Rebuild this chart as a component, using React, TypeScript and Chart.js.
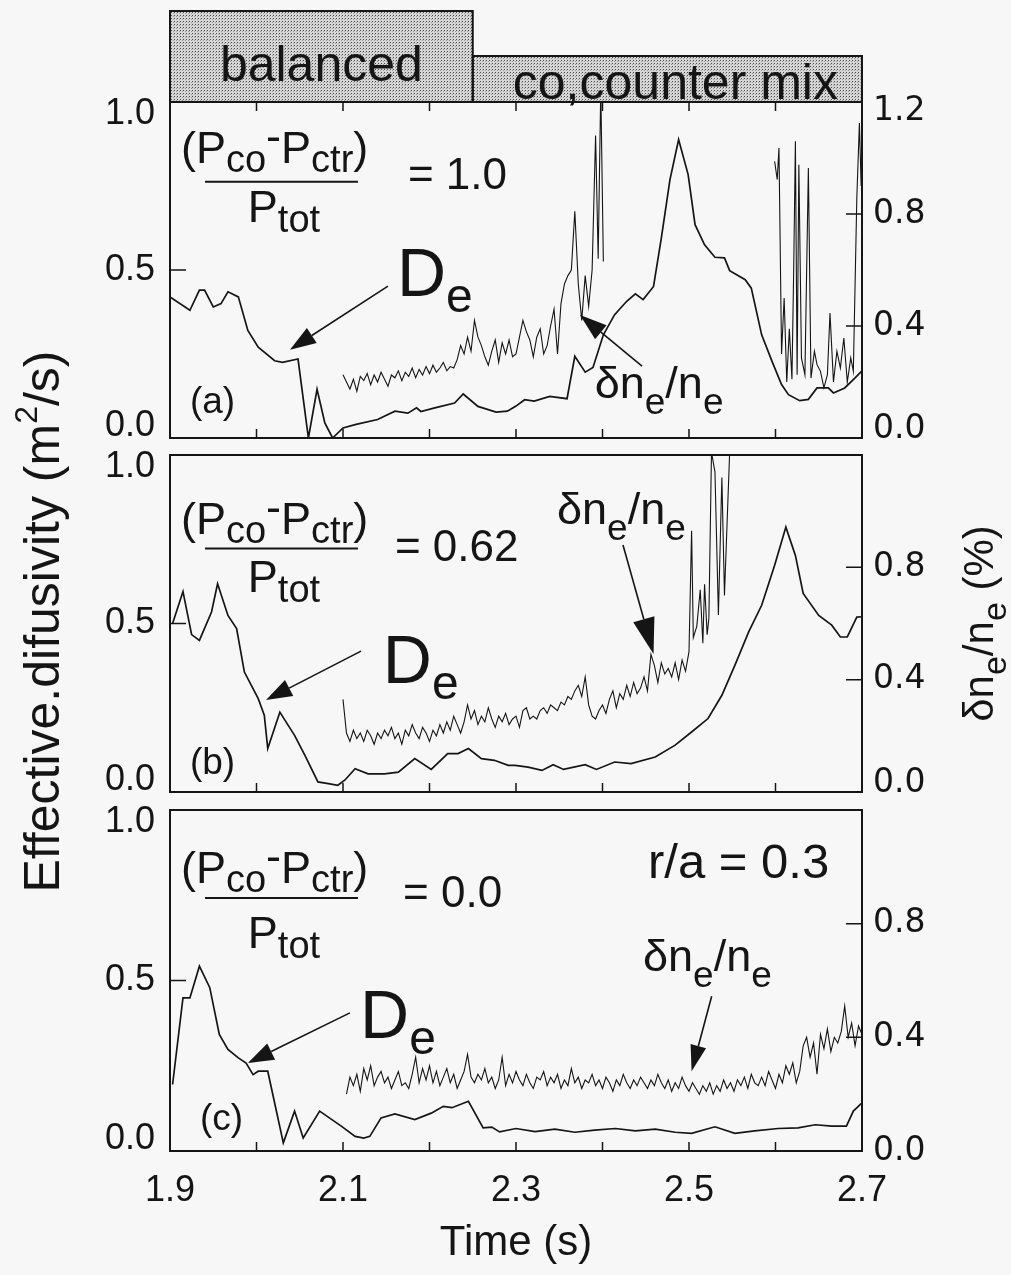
import React, { useEffect, useRef } from "react";
import { Chart, registerables } from "chart.js";

Chart.register(...registerables);

const W = 1011;
const H = 1275;
const FONT = "'Liberation Sans', Arial, Helvetica, sans-serif";
const RFONT = "'DejaVu Sans', Verdana, sans-serif";
const INK = "#151515";
const BG = "#f7f7f7";

// ---------------- axes ----------------
const timeMin = 1.9;
const timeMax = 2.7;
const timeTickLabels = ["1.9", "2.1", "2.3", "2.5", "2.7"];
const deMin = 0;
const deMax = 1.0;
const deTickLabels = ["0.0", "0.5", "1.0"];
const dnMin = 0;
const dnMax = 1.2;
const dnTickLabelsA = ["0.0", "0.4", "0.8", "1.2"];
const dnTickLabelsBC = ["0.0", "0.4", "0.8"];

// ---------------- panel (a): co-injection ----------------
const deA: [number, number][] = [
  [1.9, 0.42], [1.923, 0.38], [1.934, 0.44], [1.94, 0.44], [1.95, 0.39], [1.959, 0.4], [1.967, 0.435],
  [1.979, 0.42], [1.99, 0.32], [2.002, 0.27], [2.021, 0.23], [2.03, 0.225], [2.048, 0.235], [2.06, 0.0],
  [2.07, 0.145], [2.079, 0.045], [2.088, 0.0], [2.1, 0.03], [2.114, 0.04], [2.14, 0.055], [2.16, 0.08],
  [2.175, 0.074], [2.185, 0.09], [2.19, 0.079], [2.205, 0.089], [2.229, 0.104], [2.239, 0.131], [2.256, 0.094],
  [2.277, 0.077], [2.29, 0.08], [2.3, 0.095], [2.31, 0.114], [2.321, 0.11], [2.339, 0.124], [2.359, 0.117],
  [2.368, 0.243], [2.38, 0.196], [2.389, 0.21], [2.401, 0.307], [2.414, 0.367], [2.428, 0.407], [2.438, 0.429],
  [2.447, 0.412], [2.459, 0.451], [2.468, 0.595], [2.478, 0.769], [2.488, 0.888], [2.499, 0.784], [2.507, 0.635],
  [2.518, 0.575], [2.53, 0.538], [2.541, 0.536], [2.547, 0.498], [2.565, 0.471], [2.572, 0.446], [2.584, 0.307],
  [2.596, 0.228], [2.607, 0.159], [2.615, 0.129], [2.628, 0.111], [2.638, 0.115], [2.648, 0.149], [2.661, 0.149],
  [2.667, 0.134], [2.68, 0.149], [2.692, 0.179], [2.7, 0.2],
];
const dnA1Start = 2.1;
const dnA1End = 2.388;
const dnA1: number[] = [
  0.226, 0.2, 0.175, 0.21, 0.167, 0.22, 0.205, 0.23, 0.19, 0.225,
  0.2, 0.235, 0.21, 0.185, 0.225, 0.215, 0.24, 0.205, 0.235, 0.22,
  0.25, 0.215, 0.245, 0.225, 0.255, 0.23, 0.26, 0.235, 0.25, 0.27,
  0.24, 0.255, 0.25, 0.28, 0.33, 0.3, 0.36, 0.31, 0.42, 0.36,
  0.33, 0.29, 0.26, 0.31, 0.35, 0.27, 0.34, 0.3, 0.35, 0.29,
  0.3, 0.36, 0.42, 0.38, 0.35, 0.29, 0.36, 0.39, 0.3, 0.33,
  0.4, 0.46, 0.3, 0.48, 0.55, 0.58, 0.6, 0.81, 0.55, 0.42,
  0.58, 0.47, 0.6,
];
const dnA1Tail: [number, number][] = [[2.392, 1.08], [2.395, 0.64], [2.398, 1.25], [2.401, 0.63]];
const dnA2: [number, number][] = [
  [2.599, 0.988], [2.602, 0.923], [2.604, 1.036], [2.607, 0.3], [2.61, 0.5], [2.613, 0.2], [2.616, 0.39],
  [2.619, 0.21], [2.621, 0.595], [2.623, 1.06], [2.625, 0.226], [2.627, 0.976], [2.63, 0.286], [2.634, 0.226],
  [2.638, 0.964], [2.641, 0.214], [2.645, 0.31], [2.648, 0.262], [2.652, 0.238], [2.656, 0.179], [2.66, 0.226],
  [2.663, 0.446], [2.667, 0.2], [2.671, 0.31], [2.675, 0.25], [2.679, 0.357], [2.683, 0.2], [2.687, 0.286],
  [2.69, 0.238], [2.694, 0.857], [2.697, 1.125], [2.699, 0.9],
];

// ---------------- panel (b): 0.62 ----------------
const deB: [number, number][] = [
  [1.903, 0.5], [1.915, 0.595], [1.925, 0.467], [1.934, 0.45], [1.948, 0.534], [1.955, 0.618], [1.967, 0.524],
  [1.977, 0.485], [1.986, 0.356], [2.002, 0.277], [2.009, 0.228], [2.013, 0.129], [2.027, 0.237], [2.044, 0.168],
  [2.056, 0.109], [2.071, 0.03], [2.083, 0.025], [2.094, 0.02], [2.102, 0.035], [2.114, 0.069], [2.129, 0.054],
  [2.148, 0.054], [2.164, 0.059], [2.183, 0.099], [2.202, 0.067], [2.221, 0.114], [2.233, 0.114], [2.245, 0.129],
  [2.26, 0.099], [2.275, 0.094], [2.291, 0.079], [2.299, 0.079], [2.314, 0.074], [2.33, 0.064], [2.343, 0.081],
  [2.355, 0.067], [2.38, 0.081], [2.393, 0.067], [2.414, 0.089], [2.433, 0.084], [2.461, 0.104], [2.484, 0.139],
  [2.503, 0.178], [2.522, 0.218], [2.538, 0.287], [2.553, 0.376], [2.569, 0.475], [2.584, 0.554], [2.599, 0.673],
  [2.612, 0.786], [2.623, 0.702], [2.632, 0.589], [2.65, 0.524], [2.665, 0.495], [2.675, 0.46], [2.683, 0.46],
  [2.694, 0.519], [2.7, 0.52],
];
const dnBStart = 2.1;
const dnBEnd = 2.5;
const dnB: number[] = [
  0.33, 0.21, 0.18, 0.22, 0.19, 0.21, 0.18, 0.22, 0.2, 0.17,
  0.21, 0.19, 0.22, 0.2, 0.23, 0.19, 0.21, 0.17, 0.22, 0.2,
  0.24, 0.21, 0.19, 0.23, 0.21, 0.18, 0.22, 0.2, 0.24, 0.21,
  0.25, 0.22, 0.27, 0.24, 0.21, 0.25, 0.31, 0.26, 0.29, 0.24,
  0.27, 0.25, 0.3, 0.26, 0.23, 0.27, 0.25, 0.28, 0.24, 0.26,
  0.27, 0.23, 0.29, 0.3, 0.26, 0.27, 0.26, 0.29, 0.3, 0.28,
  0.31, 0.3, 0.29, 0.32, 0.31, 0.34, 0.33, 0.36, 0.38, 0.34,
  0.41, 0.31, 0.27, 0.26, 0.29, 0.31, 0.28, 0.33, 0.36, 0.3,
  0.35, 0.33, 0.38, 0.34, 0.39, 0.35, 0.37, 0.41, 0.36, 0.49,
  0.45, 0.39, 0.46, 0.42, 0.44, 0.41, 0.46, 0.4, 0.47, 0.43,
  0.5,
];
const dnBTail: [number, number][] = [
  [2.503, 0.93], [2.505, 0.55], [2.509, 0.59], [2.513, 0.72], [2.516, 0.53], [2.518, 0.74], [2.521, 0.56],
  [2.523, 0.62], [2.526, 1.21], [2.53, 1.14], [2.534, 0.63], [2.538, 1.12], [2.541, 0.7], [2.547, 1.21],
];

// ---------------- panel (c): 0.0 ----------------
const deC: [number, number][] = [
  [1.903, 0.195], [1.915, 0.449], [1.923, 0.449], [1.934, 0.542], [1.946, 0.479], [1.957, 0.342], [1.967, 0.298],
  [1.979, 0.273], [1.988, 0.258], [1.996, 0.224], [2.002, 0.234], [2.013, 0.234], [2.031, 0.024], [2.044, 0.117],
  [2.054, 0.038], [2.073, 0.117], [2.098, 0.073], [2.114, 0.043], [2.124, 0.038], [2.131, 0.043], [2.144, 0.097],
  [2.16, 0.109], [2.183, 0.092], [2.202, 0.111], [2.216, 0.131], [2.226, 0.127], [2.245, 0.146], [2.262, 0.068],
  [2.272, 0.07], [2.281, 0.056], [2.3, 0.066], [2.322, 0.057], [2.345, 0.064], [2.368, 0.055], [2.391, 0.061],
  [2.415, 0.066], [2.438, 0.059], [2.461, 0.064], [2.484, 0.055], [2.503, 0.052], [2.53, 0.071], [2.553, 0.052],
  [2.576, 0.059], [2.603, 0.066], [2.626, 0.068], [2.646, 0.077], [2.665, 0.073], [2.682, 0.073], [2.69, 0.117],
  [2.7, 0.141],
];
const dnCStart = 2.104;
const dnCEnd = 2.7;
const dnC: number[] = [
  0.2, 0.26, 0.23, 0.27, 0.21, 0.29, 0.25, 0.3, 0.23, 0.26,
  0.28, 0.24, 0.26, 0.22, 0.25, 0.28, 0.23, 0.24, 0.22, 0.27,
  0.33, 0.24, 0.29, 0.25, 0.3, 0.24, 0.28, 0.23, 0.26, 0.29,
  0.24, 0.27, 0.22, 0.25, 0.28, 0.34, 0.26, 0.24, 0.27, 0.25,
  0.29, 0.24, 0.26, 0.22, 0.25, 0.33, 0.23, 0.27, 0.24, 0.28,
  0.25, 0.23, 0.27, 0.24, 0.22, 0.26, 0.25, 0.28, 0.23, 0.26,
  0.24, 0.27, 0.22, 0.25, 0.23, 0.29, 0.24, 0.26, 0.22, 0.25,
  0.24, 0.27, 0.23, 0.25, 0.22, 0.26, 0.24, 0.21, 0.25, 0.23,
  0.27, 0.24, 0.22, 0.25, 0.23, 0.26, 0.24, 0.22, 0.25, 0.23,
  0.27, 0.24, 0.22, 0.25, 0.21, 0.24, 0.22, 0.26, 0.23, 0.21,
  0.24, 0.22, 0.2, 0.23, 0.21, 0.24, 0.2, 0.23, 0.21, 0.25,
  0.22, 0.24, 0.21, 0.25, 0.23, 0.26, 0.22, 0.27, 0.24, 0.23,
  0.26, 0.23, 0.28, 0.25, 0.22, 0.27, 0.24, 0.3, 0.27, 0.31,
  0.24, 0.28, 0.37, 0.4, 0.33, 0.38, 0.27, 0.41, 0.36, 0.43,
  0.35, 0.4, 0.38, 0.42, 0.51, 0.4, 0.45, 0.37, 0.44, 0.41,
];

// ---------------- texts ----------------
const headerLeft = "balanced";
const headerRight = "co,counter mix";
const headerSplit = 2.25;
const ratioA = "= 1.0";
const ratioB = "= 0.62";
const ratioC = "= 0.0";
const radiusText = "r/a = 0.3";
const timeTitle = "Time (s)";

type Run = { t: string; s: number; dy?: number };
const numRuns: Run[] = [
  { t: "(P", s: 45 }, { t: "co", s: 38, dy: 9 }, { t: "-", s: 45, dy: -12 },
  { t: "P", s: 45 }, { t: "ctr", s: 38, dy: 9 }, { t: ")", s: 45 },
];
const denRuns: Run[] = [{ t: "P", s: 45 }, { t: "tot", s: 38, dy: 10 }];
const deRuns: Run[] = [{ t: "D", s: 68 }, { t: "e", s: 48, dy: 16 }];
const dnRuns: Run[] = [
  { t: "δn", s: 45 }, { t: "e", s: 37, dy: 16 }, { t: "/n", s: 45 }, { t: "e", s: 37, dy: 16 },
];
const leftTitleRuns: Run[] = [
  { t: "Effective.difusivity (m", s: 50 }, { t: "2", s: 32, dy: -22 }, { t: "/s)", s: 50 },
];
const rightTitleRuns: Run[] = [
  { t: "δn", s: 42 }, { t: "e", s: 34, dy: 13 }, { t: "/n", s: 42 }, { t: "e", s: 34, dy: 13 }, { t: " (%)", s: 42 },
];

type Note =
  | { kind: "text"; t: number; v: number; runs: Run[] }
  | { kind: "bar"; t1: number; t2: number; v: number }
  | { kind: "arrow"; t1: number; v1: number; t2: number; v2: number; len: number; hw: number };

const notesA: Note[] = [
  { kind: "text", t: 1.9127, v: 0.818, runs: numRuns },
  { kind: "bar", t1: 1.9405, t2: 2.1173, v: 0.763 },
  { kind: "text", t: 1.99, v: 0.643, runs: denRuns },
  { kind: "text", t: 2.175, v: 0.741, runs: [{ t: ratioA, s: 44 }] },
  { kind: "text", t: 2.1624, v: 0.4226, runs: deRuns },
  { kind: "arrow", t1: 2.152, v1: 0.452, t2: 2.0387, v2: 0.263, len: 26, hw: 9 },
  { kind: "text", t: 1.923, v: 0.074, runs: [{ t: "(a)", s: 37 }] },
  { kind: "text", t: 2.391, v: 0.119, runs: dnRuns },
  { kind: "arrow", t1: 2.4457, v1: 0.214, t2: 2.374, v2: 0.366, len: 27, hw: 9 },
];
const notesB: Note[] = [
  { kind: "text", t: 1.9127, v: 0.766, runs: numRuns },
  { kind: "bar", t1: 1.9405, t2: 2.1173, v: 0.7226 },
  { kind: "text", t: 1.99, v: 0.593, runs: denRuns },
  { kind: "text", t: 2.16, v: 0.685, runs: [{ t: ratioB, s: 44 }] },
  { kind: "text", t: 2.146, v: 0.323, runs: deRuns },
  { kind: "arrow", t1: 2.1208, v1: 0.418, t2: 2.011, v2: 0.273, len: 26, hw: 9 },
  { kind: "text", t: 1.923, v: 0.053, runs: [{ t: "(b)", s: 37 }] },
  { kind: "text", t: 2.3474, v: 0.795, runs: dnRuns },
  { kind: "arrow", t1: 2.4237, v1: 0.733, t2: 2.459, v2: 0.4095, len: 36, hw: 11 },
];
const notesC: Note[] = [
  { kind: "text", t: 1.9127, v: 0.786, runs: numRuns },
  { kind: "bar", t1: 1.9405, t2: 2.1173, v: 0.742 },
  { kind: "text", t: 1.99, v: 0.595, runs: denRuns },
  { kind: "text", t: 2.1694, v: 0.7155, runs: [{ t: ratioC, s: 44 }] },
  { kind: "text", t: 2.4526, v: 0.8, runs: [{ t: radiusText, s: 49 }] },
  { kind: "text", t: 2.1197, v: 0.331, runs: deRuns },
  { kind: "arrow", t1: 2.108, v1: 0.405, t2: 1.99, v2: 0.258, len: 26, hw: 9 },
  { kind: "text", t: 1.9347, v: 0.0616, runs: [{ t: "(c)", s: 37 }] },
  { kind: "text", t: 2.4468, v: 0.528, runs: dnRuns },
  { kind: "arrow", t1: 2.5262, v1: 0.4537, t2: 2.503, v2: 0.2337, len: 26, hw: 8 },
];

// ---------------- helpers ----------------
const toXY = (pairs: [number, number][]) => pairs.map(([x, y]) => ({ x, y }));
const sampled = (t0: number, t1: number, vals: number[]) =>
  vals.map((v, i) => ({ x: t0 + (i * (t1 - t0)) / (vals.length - 1), y: v }));

function drawRuns(ctx: CanvasRenderingContext2D, x: number, y: number, runs: Run[], center = false) {
  ctx.textBaseline = "alphabetic";
  ctx.textAlign = "left";
  let total = 0;
  for (const r of runs) {
    ctx.font = `${r.s}px ${FONT}`;
    total += ctx.measureText(r.t).width;
  }
  let cx = center ? x - total / 2 : x;
  for (const r of runs) {
    ctx.font = `${r.s}px ${FONT}`;
    ctx.fillText(r.t, cx, y + (r.dy || 0));
    cx += ctx.measureText(r.t).width;
  }
}

function drawArrow(ctx: CanvasRenderingContext2D, x1: number, y1: number, x2: number, y2: number, len: number, hw: number) {
  const dx = x2 - x1, dy = y2 - y1;
  const L = Math.hypot(dx, dy);
  const ux = dx / L, uy = dy / L;
  const bx = x2 - ux * len, by = y2 - uy * len;
  ctx.beginPath();
  ctx.moveTo(x1, y1);
  ctx.lineTo(bx, by);
  ctx.stroke();
  ctx.beginPath();
  ctx.moveTo(x2, y2);
  ctx.lineTo(bx - uy * hw, by + ux * hw);
  ctx.lineTo(bx + uy * hw, by - ux * hw);
  ctx.closePath();
  ctx.fill();
}

function makePattern(ctx: CanvasRenderingContext2D) {
  const c = document.createElement("canvas");
  c.width = 3;
  c.height = 3;
  const p = c.getContext("2d")!;
  p.fillStyle = "#d6d6d6";
  p.fillRect(0, 0, 3, 3);
  p.fillStyle = "#4a4a4a";
  p.fillRect(0, 0, 1, 1);
  p.fillStyle = "#9a9a9a";
  p.fillRect(2, 1, 1, 1);
  return ctx.createPattern(c, "repeat")!;
}

interface PanelSpec {
  key: string;
  top: number;
  bottom: number;
  de: { x: number; y: number }[];
  dn: { x: number; y: number }[][];
  dnLabels: string[];
  liftRightZero: boolean;
  notes: Note[];
  showX: boolean;
  topTicks: boolean;
  header: boolean;
  titles: boolean;
}

function panelPlugin(spec: PanelSpec) {
  return {
    id: "panel_" + spec.key,
    afterDraw(chart: any) {
      const ctx: CanvasRenderingContext2D = chart.ctx;
      const { left, right, top, bottom } = chart.chartArea;
      const xs = chart.scales.x;
      const ys = chart.scales.y;
      const y2 = chart.scales.y2;
      ctx.save();
      ctx.strokeStyle = INK;
      ctx.fillStyle = INK;
      ctx.lineCap = "butt";

      if (spec.header) {
        const xm = xs.getPixelForValue(headerSplit);
        ctx.fillStyle = makePattern(ctx);
        ctx.fillRect(left, top - 91, xm - left, 91);
        ctx.fillRect(xm, top - 46, right - xm, 46);
        ctx.lineWidth = 2;
        ctx.strokeRect(left, top - 91, xm - left, 91);
        ctx.strokeRect(xm, top - 46, right - xm, 46);
        ctx.fillStyle = INK;
        drawRuns(ctx, (left + xm) / 2, top - 21, [{ t: headerLeft, s: 50 }], true);
        drawRuns(ctx, (xm + right) / 2 + 8, top - 3, [{ t: headerRight, s: 50 }], true);
      }

      ctx.lineWidth = 2;
      ctx.strokeRect(left, top, right - left, bottom - top);

      ctx.lineWidth = 1.5;
      ctx.beginPath();
      for (const tk of xs.ticks) {
        if (tk.value <= timeMin + 1e-6 || tk.value >= timeMax - 1e-6) continue;
        const px = xs.getPixelForValue(tk.value);
        ctx.moveTo(px, bottom);
        ctx.lineTo(px, bottom - 9);
        if (spec.topTicks) {
          ctx.moveTo(px, top);
          ctx.lineTo(px, top + 9);
        }
      }
      for (const tk of ys.ticks) {
        if (tk.value <= deMin + 1e-6 || tk.value >= deMax - 1e-6) continue;
        const py = ys.getPixelForValue(tk.value);
        ctx.moveTo(left, py);
        ctx.lineTo(left + 16, py);
      }
      for (const tk of y2.ticks) {
        if (tk.value <= dnMin + 1e-6 || tk.value >= dnMax - 1e-6) continue;
        const py = y2.getPixelForValue(tk.value);
        ctx.moveTo(right, py);
        ctx.lineTo(right - 16, py);
      }
      ctx.stroke();

      ctx.lineWidth = 1.6;
      for (const n of spec.notes) {
        if (n.kind === "text") {
          drawRuns(ctx, xs.getPixelForValue(n.t), ys.getPixelForValue(n.v), n.runs);
        } else if (n.kind === "bar") {
          const py = ys.getPixelForValue(n.v);
          ctx.lineWidth = 2;
          ctx.beginPath();
          ctx.moveTo(xs.getPixelForValue(n.t1), py);
          ctx.lineTo(xs.getPixelForValue(n.t2), py);
          ctx.stroke();
          ctx.lineWidth = 1.6;
        } else {
          drawArrow(
            ctx,
            xs.getPixelForValue(n.t1), ys.getPixelForValue(n.v1),
            xs.getPixelForValue(n.t2), ys.getPixelForValue(n.v2),
            n.len, n.hw
          );
        }
      }

      if (spec.titles) {
        const cy = ys.getPixelForValue(0.5);
        ctx.save();
        ctx.translate(left - 111, cy - 2);
        ctx.rotate(-Math.PI / 2);
        drawRuns(ctx, 0, 0, leftTitleRuns, true);
        ctx.restore();
        ctx.save();
        ctx.translate(right + 131, cy);
        ctx.rotate(-Math.PI / 2);
        drawRuns(ctx, 0, 0, rightTitleRuns, true);
        ctx.restore();
      }
      ctx.restore();
    },
  };
}

function makeChart(canvas: HTMLCanvasElement, spec: PanelSpec) {
  const datasets: any[] = [
    {
      data: spec.de,
      yAxisID: "y",
      borderColor: INK,
      borderWidth: 1.7,
      pointRadius: 0,
      tension: 0,
      fill: false,
    },
    ...spec.dn.map((d) => ({
      data: d,
      yAxisID: "y2",
      borderColor: INK,
      borderWidth: 1.1,
      pointRadius: 0,
      tension: 0,
      fill: false,
    })),
  ];
  return new Chart(canvas, {
    type: "line",
    data: { datasets },
    options: {
      animation: false,
      responsive: false,
      maintainAspectRatio: false,
      events: [],
      layout: { padding: { top: spec.top, left: 0, right: 0, bottom: 0 } },
      plugins: { legend: { display: false }, tooltip: { enabled: false }, title: { display: false } },
      scales: {
        x: {
          type: "linear",
          min: timeMin,
          max: timeMax,
          grid: { display: false, drawTicks: false },
          border: { display: false },
          ticks: {
            display: spec.showX,
            stepSize: 0.1,
            autoSkip: false,
            maxRotation: 0,
            padding: 18,
            color: INK,
            font: { family: FONT, size: 36 },
            callback: (v: any) => {
              const s = Number(v).toFixed(1);
              return timeTickLabels.includes(s) ? s : "";
            },
          },
          title: {
            display: spec.showX,
            text: timeTitle,
            color: INK,
            font: { family: FONT, size: 42 },
            padding: { top: 0, bottom: 6 },
          },
          afterFit: (s: any) => {
            s.height = H - spec.bottom;
          },
        },
        y: {
          type: "linear",
          position: "left",
          min: deMin,
          max: deMax,
          grid: { display: false, drawTicks: false },
          border: { display: false },
          ticks: {
            stepSize: 0.5,
            padding: 15,
            color: INK,
            font: { family: FONT, size: 36, lineHeight: "24px" },
            callback: (v: any) => {
              const s = Number(v).toFixed(1);
              if (!deTickLabels.includes(s)) return "";
              if (Number(v) >= deMax - 1e-6) return ["", s];
              if (Number(v) <= deMin + 1e-6) return [s, ""];
              return s;
            },
          },
          afterFit: (s: any) => {
            s.width = 170;
          },
        },
        y2: {
          type: "linear",
          position: "right",
          min: dnMin,
          max: dnMax,
          grid: { display: false, drawTicks: false },
          border: { display: false },
          ticks: {
            stepSize: 0.4,
            padding: 11,
            color: INK,
            font: { family: RFONT, size: 33, lineHeight: "18px" },
            callback: (v: any) => {
              const s = Number(v).toFixed(1);
              if (!spec.dnLabels.includes(s)) return "";
              if (Number(v) >= dnMax - 1e-6) return ["", s];
              if (Number(v) <= dnMin + 1e-6 && spec.liftRightZero) return [s, ""];
              return s;
            },
          },
          afterFit: (s: any) => {
            s.width = W - 862;
          },
        },
      },
    } as any,
    plugins: [panelPlugin(spec)],
  });
}

const specs: PanelSpec[] = [
  {
    key: "a",
    top: 102,
    bottom: 438,
    de: toXY(deA),
    dn: [[...sampled(dnA1Start, dnA1End, dnA1), ...toXY(dnA1Tail)], toXY(dnA2)],
    dnLabels: dnTickLabelsA,
    liftRightZero: true,
    notes: notesA,
    showX: false,
    topTicks: true,
    header: true,
    titles: false,
  },
  {
    key: "b",
    top: 455,
    bottom: 792,
    de: toXY(deB),
    dn: [[...sampled(dnBStart, dnBEnd, dnB), ...toXY(dnBTail)]],
    dnLabels: dnTickLabelsBC,
    liftRightZero: true,
    notes: notesB,
    showX: false,
    topTicks: false,
    header: false,
    titles: true,
  },
  {
    key: "c",
    top: 810,
    bottom: 1151,
    de: toXY(deC),
    dn: [sampled(dnCStart, dnCEnd, dnC)],
    dnLabels: dnTickLabelsBC,
    liftRightZero: false,
    notes: notesC,
    showX: true,
    topTicks: false,
    header: false,
    titles: false,
  },
];

export default function App() {
  const refA = useRef<HTMLCanvasElement>(null);
  const refB = useRef<HTMLCanvasElement>(null);
  const refC = useRef<HTMLCanvasElement>(null);

  useEffect(() => {
    const refs = [refA, refB, refC];
    const charts = specs.map((s, i) => makeChart(refs[i].current as HTMLCanvasElement, s));
    return () => charts.forEach((c) => c.destroy());
  }, []);

  const cs: React.CSSProperties = { position: "absolute", left: 0, top: 0, width: W, height: H };
  return (
    <div style={{ position: "fixed", left: 0, top: 0, width: W, height: H, background: BG, overflow: "hidden" }}>
      <canvas ref={refA} width={W} height={H} style={cs} />
      <canvas ref={refB} width={W} height={H} style={cs} />
      <canvas ref={refC} width={W} height={H} style={cs} />
    </div>
  );
}
